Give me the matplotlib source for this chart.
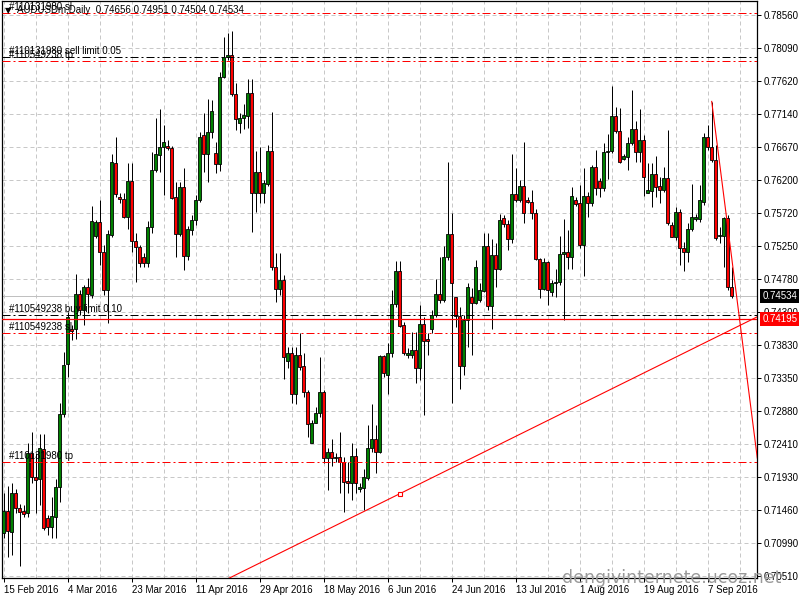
import numpy as np
import matplotlib.pyplot as plt
from matplotlib.patches import Rectangle

plt.rcParams['font.family'] = ['Liberation Sans', 'DejaVu Sans']

# AUDUSDm Daily, bar 0 = 15 Feb 2016 (broker has Sunday bars)
opens = [
    0.7113, 0.7144, 0.7114, 0.7170, 0.7149, 0.7144, 0.7141, 0.7227, 0.7193, 0.7190,
    0.7233, 0.7134, 0.7121, 0.7136, 0.7179, 0.7283, 0.7355, 0.7405, 0.7405, 0.7456,
    0.7433, 0.7466, 0.7454, 0.7539, 0.7559, 0.7516, 0.7461, 0.7540, 0.7644, 0.7595,
    0.7592, 0.7566, 0.7618, 0.7532, 0.7523, 0.7509, 0.7500, 0.7552, 0.7634, 0.7655,
    0.7667, 0.7668, 0.7665, 0.7595, 0.7542, 0.7609, 0.7510, 0.7547, 0.7562, 0.7591,
    0.7684, 0.7657, 0.7688, 0.7658, 0.7642, 0.7767, 0.7796, 0.7799, 0.7743, 0.7701,
    0.7708, 0.7711, 0.7744, 0.7601, 0.7631, 0.7601, 0.7614, 0.7661, 0.7494, 0.7463,
    0.7476, 0.7360, 0.7371, 0.7312, 0.7368, 0.7352, 0.7315, 0.7242, 0.7271, 0.7285,
    0.7315, 0.7220, 0.7229, 0.7220, 0.7222, 0.7215, 0.7187, 0.7184, 0.7223, 0.7176,
    0.7177, 0.7192, 0.7235, 0.7248, 0.7229, 0.7367, 0.7339, 0.7371, 0.7441, 0.7489,
    0.7411, 0.7368, 0.7368, 0.7375, 0.7349, 0.7413, 0.7391, 0.7405, 0.7426, 0.7456,
    0.7447, 0.7509, 0.7542, 0.7451, 0.7424, 0.7352, 0.7418, 0.7451, 0.7443, 0.7447,
    0.7460, 0.7525, 0.7438, 0.7512, 0.7492, 0.7565, 0.7556, 0.7535, 0.7599, 0.7591,
    0.7611, 0.7591, 0.7588, 0.7572, 0.7506, 0.7463, 0.7502, 0.7459, 0.7471, 0.7473,
    0.7513, 0.7516, 0.7509, 0.7591, 0.7586, 0.7526, 0.7596, 0.7586, 0.7638, 0.7618,
    0.7608, 0.7659, 0.7661, 0.7711, 0.7690, 0.7649, 0.7652, 0.7672, 0.7692, 0.7659,
    0.7677, 0.7601, 0.7603, 0.7628, 0.7611, 0.7605, 0.7622, 0.7555, 0.7537, 0.7573,
    0.7522, 0.7516, 0.7549, 0.7563, 0.7563, 0.7588, 0.7681, 0.7667, 0.7648, 0.7539,
    0.7539, 0.7565, 0.74656,
]
highs = [
    0.7170, 0.7180, 0.7184, 0.7176, 0.7154, 0.7153, 0.7242, 0.7258, 0.7227, 0.7255,
    0.7255, 0.7139, 0.7164, 0.7190, 0.7299, 0.7372, 0.7430, 0.7411, 0.7484, 0.7461,
    0.7469, 0.7479, 0.7582, 0.7562, 0.7591, 0.7526, 0.7547, 0.7657, 0.7681, 0.7601,
    0.7601, 0.7644, 0.7644, 0.7543, 0.7526, 0.7514, 0.7560, 0.7659, 0.7708, 0.7721,
    0.7698, 0.7677, 0.7668, 0.7616, 0.7616, 0.7636, 0.7553, 0.7569, 0.7598, 0.7688,
    0.7715, 0.7735, 0.7734, 0.7674, 0.7774, 0.7824, 0.7830, 0.7833, 0.7758, 0.7715,
    0.7728, 0.7764, 0.7764, 0.7661, 0.7667, 0.7619, 0.7669, 0.7717, 0.7514, 0.7514,
    0.7483, 0.7380, 0.7380, 0.7380, 0.7400, 0.7371, 0.7318, 0.7275, 0.7294, 0.7365,
    0.7318, 0.7235, 0.7248, 0.7227, 0.7258, 0.7222, 0.7215, 0.7242, 0.7235, 0.7184,
    0.7205, 0.7268, 0.7298, 0.7268, 0.7368, 0.7368, 0.7385, 0.7461, 0.7503, 0.7503,
    0.7415, 0.7378, 0.7401, 0.7401, 0.7440, 0.7423, 0.7400, 0.7433, 0.7477, 0.7509,
    0.7525, 0.7645, 0.7572, 0.7451, 0.7437, 0.7426, 0.7471, 0.7464, 0.7504, 0.7471,
    0.7543, 0.7543, 0.7535, 0.7529, 0.7570, 0.7569, 0.7562, 0.7657, 0.7636, 0.7619,
    0.7674, 0.7595, 0.7605, 0.7578, 0.7507, 0.7507, 0.7503, 0.7476, 0.7492, 0.7539,
    0.7563, 0.7547, 0.7609, 0.7595, 0.7612, 0.7636, 0.7602, 0.7641, 0.7662, 0.7622,
    0.7672, 0.7685, 0.7754, 0.7724, 0.7723, 0.7657, 0.7681, 0.7748, 0.7704, 0.7721,
    0.7684, 0.7644, 0.7644, 0.7654, 0.7624, 0.7638, 0.7691, 0.7559, 0.7581, 0.7578,
    0.7530, 0.7558, 0.7614, 0.7570, 0.7612, 0.7687, 0.7698, 0.7731, 0.7669, 0.7552,
    0.7566, 0.7569, 0.74951,
]
lows = [
    0.7106, 0.7078, 0.7081, 0.7141, 0.7065, 0.7136, 0.7136, 0.7184, 0.7141, 0.7153,
    0.7117, 0.7110, 0.7106, 0.7106, 0.7157, 0.7279, 0.7337, 0.7390, 0.7391, 0.7426,
    0.7411, 0.7428, 0.7450, 0.7536, 0.7497, 0.7454, 0.7414, 0.7537, 0.7595, 0.7586,
    0.7565, 0.7549, 0.7516, 0.7473, 0.7494, 0.7494, 0.7494, 0.7543, 0.7631, 0.7631,
    0.7598, 0.7662, 0.7592, 0.7509, 0.7539, 0.7490, 0.7504, 0.7540, 0.7555, 0.7588,
    0.7631, 0.7616, 0.7680, 0.7629, 0.7632, 0.7766, 0.7791, 0.7740, 0.7691, 0.7687,
    0.7692, 0.7694, 0.7545, 0.7573, 0.7586, 0.7586, 0.7611, 0.7490, 0.7444, 0.7454,
    0.7334, 0.7349, 0.7299, 0.7298, 0.7347, 0.7308, 0.7250, 0.7242, 0.7271, 0.7279,
    0.7213, 0.7174, 0.7209, 0.7215, 0.7170, 0.7143, 0.7170, 0.7160, 0.7170, 0.7172,
    0.7146, 0.7189, 0.7229, 0.7199, 0.7227, 0.7337, 0.7312, 0.7365, 0.7437, 0.7408,
    0.7368, 0.7364, 0.7364, 0.7328, 0.7332, 0.7282, 0.7368, 0.7400, 0.7423, 0.7443,
    0.7444, 0.7504, 0.7299, 0.7408, 0.7319, 0.7339, 0.7380, 0.7368, 0.7441, 0.7444,
    0.7459, 0.7433, 0.7405, 0.7466, 0.7490, 0.7552, 0.7519, 0.7529, 0.7588, 0.7588,
    0.7558, 0.7586, 0.7563, 0.7504, 0.7450, 0.7461, 0.7440, 0.7453, 0.7451, 0.7469,
    0.7418, 0.7492, 0.7492, 0.7582, 0.7522, 0.7481, 0.7566, 0.7582, 0.7598, 0.7595,
    0.7603, 0.7621, 0.7658, 0.7687, 0.7644, 0.7648, 0.7634, 0.7669, 0.7645, 0.7645,
    0.7596, 0.7601, 0.7581, 0.7595, 0.7586, 0.7602, 0.7555, 0.7537, 0.7533, 0.7497,
    0.7489, 0.7502, 0.7546, 0.7560, 0.7559, 0.7583, 0.7662, 0.7645, 0.7533, 0.7529,
    0.7494, 0.7461, 0.74504,
]
closes = [
    0.7144, 0.7116, 0.7170, 0.7149, 0.7143, 0.7140, 0.7227, 0.7193, 0.7189, 0.7235,
    0.7120, 0.7121, 0.7137, 0.7179, 0.7283, 0.7354, 0.7423, 0.7403, 0.7456, 0.7433,
    0.7466, 0.7456, 0.7560, 0.7559, 0.7516, 0.7461, 0.7542, 0.7645, 0.7599, 0.7592,
    0.7566, 0.7618, 0.7532, 0.7523, 0.7500, 0.7500, 0.7552, 0.7634, 0.7657, 0.7667,
    0.7674, 0.7665, 0.7593, 0.7542, 0.7609, 0.7510, 0.7549, 0.7562, 0.7591, 0.7681,
    0.7657, 0.7688, 0.7718, 0.7642, 0.7767, 0.7796, 0.7799, 0.7743, 0.7707, 0.7708,
    0.7713, 0.7744, 0.7601, 0.7631, 0.7601, 0.7615, 0.7661, 0.7494, 0.7463, 0.7476,
    0.7365, 0.7371, 0.7312, 0.7368, 0.7351, 0.7315, 0.7269, 0.7271, 0.7285, 0.7315,
    0.7220, 0.7229, 0.7220, 0.7222, 0.7215, 0.7186, 0.7184, 0.7223, 0.7184, 0.7179,
    0.7193, 0.7235, 0.7248, 0.7229, 0.7367, 0.7342, 0.7371, 0.7441, 0.7489, 0.7410,
    0.7371, 0.7371, 0.7375, 0.7349, 0.7413, 0.7388, 0.7388, 0.7426, 0.7456, 0.7447,
    0.7509, 0.7542, 0.7471, 0.7424, 0.7352, 0.7418, 0.7466, 0.7443, 0.7494, 0.7461,
    0.7525, 0.7438, 0.7512, 0.7492, 0.7562, 0.7556, 0.7535, 0.7599, 0.7591, 0.7611,
    0.7572, 0.7588, 0.7572, 0.7506, 0.7463, 0.7502, 0.7461, 0.7471, 0.7473, 0.7513,
    0.7516, 0.7509, 0.7596, 0.7585, 0.7526, 0.7596, 0.7586, 0.7638, 0.7608, 0.7608,
    0.7659, 0.7661, 0.7711, 0.7690, 0.7645, 0.7654, 0.7672, 0.7692, 0.7659, 0.7677,
    0.7624, 0.7605, 0.7628, 0.7609, 0.7605, 0.7622, 0.7558, 0.7537, 0.7573, 0.7522,
    0.7516, 0.7549, 0.7566, 0.7566, 0.7591, 0.7681, 0.7667, 0.7648, 0.7536, 0.7540,
    0.7565, 0.7466, 0.74534,
]

date_bars = [0, 16, 32, 48, 64, 80, 96, 112, 128, 144, 160, 176]
date_labels = ['15 Feb 2016', '4 Mar 2016', '23 Mar 2016', '11 Apr 2016', '29 Apr 2016',
               '18 May 2016', '6 Jun 2016', '24 Jun 2016', '13 Jul 2016', '1 Aug 2016',
               '19 Aug 2016', '7 Sep 2016']
price_labels = ['0.78560', '0.78090', '0.77620', '0.77140', '0.76670', '0.76200',
                '0.75720', '0.75250', '0.74780', '0.74300', '0.73830', '0.73350',
                '0.72880', '0.72410', '0.71930', '0.71460', '0.70990', '0.70510']

# pending orders / stops
order_prices = [0.78593, 0.77961, 0.77895, 0.74250, 0.73992, 0.72141]
order_labels = ['#110131980 sl', '#110131980 sell limit 0.05', '#110549238 tp',
                '#110549238 buy limit 0.10', '#110549238 sl', '#110131980 tp']
order_colors = ['red', 'black', 'red', 'black', 'red', 'red']

bid = 0.74534
alert_price = 0.74195
header = 'AUDUSDm,Daily  0.74656 0.74951 0.74504 0.74534'

# trend lines
down_line = [(177, 0.7732), (188.4, 0.72202)]
up_anchor = (99, 0.7169)
up_second = (188.25, 0.74225)

bull_color = '#008000'
bear_color = '#ff0000'

fig = plt.figure(figsize=(8, 6), dpi=100)
ax = fig.add_axes([2.3 / 800, 22 / 600, 755 / 800, 577 / 600])
ax.set_xlim(-0.35, 188.4)
ax.set_ylim(0.70481, 0.78761)

# grid
yticks = np.linspace(float(price_labels[0]), float(price_labels[-1]), len(price_labels))
for gx in range(0, 189, 8):
    ax.axvline(gx, color='#c8c8c8', lw=0.72, ls=(0, (4, 3)), zorder=0)
for gy in yticks:
    ax.axhline(gy, color='#c8c8c8', lw=0.72, ls=(0, (4, 3)), zorder=0)

ax.axhline(bid, color='#c0c0c0', lw=0.72, zorder=1)

# candles
for x, o, h, l, c in zip(range(len(opens)), opens, highs, lows, closes):
    ax.vlines(x, l, h, color='black', lw=0.72, zorder=3)
    col = bull_color if c >= o else bear_color
    body = max(abs(c - o), 0.00004)
    ax.add_patch(Rectangle((x - 0.32, min(o, c)), 0.64, body, fc=col, ec='black',
                           lw=0.6, zorder=4))

# order lines
for price, lab, col in zip(order_prices, order_labels, order_colors):
    ax.axhline(price, color=col, lw=0.72, ls=(0, (8, 3, 2, 3)), zorder=5)
    ax.annotate(lab, xy=(0, price), xycoords=('axes fraction', 'data'),
                xytext=(7, 3), textcoords='offset pixels', fontsize=7,
                va='baseline', ha='left', color='black', zorder=6)
ax.axhline(alert_price, color='red', lw=0.9, zorder=5)

# trend lines
ax.plot([p[0] for p in down_line], [p[1] for p in down_line], color='red', lw=0.8, zorder=5)
ax.axline(up_anchor, up_second, color='red', lw=0.8, zorder=5)
ax.plot(*up_anchor, marker='s', ms=3.5, mfc='white', mec='red', mew=0.8, zorder=6)

# header
fig.text(5 / 800, 1 - 11 / 600, '\u25bc', fontsize=6, va='center', ha='left',
         family=['DejaVu Sans'])
fig.text(17 / 800, 1 - 10 / 600, header, fontsize=7, va='center', ha='left')

# axes / ticks
ax.yaxis.tick_right()
ax.set_yticks(yticks)
ax.set_yticklabels(price_labels)
ax.set_xticks(date_bars)
ax.set_xticklabels(date_labels)
for lab in ax.get_xticklabels():
    lab.set_ha('left')
ax.tick_params(axis='y', length=3, width=0.72, pad=1.5, labelsize=7)
ax.tick_params(axis='x', length=3, width=0.72, pad=2, labelsize=7)
for sp in ax.spines.values():
    sp.set_linewidth(0.9)

# price boxes on the scale
for price, fc in [(bid, 'black'), (alert_price, 'red')]:
    ax.annotate(f'{price:.5f}', xy=(1, price), xycoords=('axes fraction', 'data'),
                xytext=(5, 0), textcoords='offset pixels', va='center', ha='left',
                color='white', fontsize=7, annotation_clip=False, zorder=10,
                bbox=dict(boxstyle='square,pad=0.2', fc=fc, ec='none'))

# watermark
fig.text(672 / 800, 1 - 578 / 600, 'dengivinternete.ucoz.net', fontsize=12.5,
         color='#9a9a9a', ha='center', va='center', family=['DejaVu Sans'])

fig.savefig('out.png', dpi=100, facecolor='white')
